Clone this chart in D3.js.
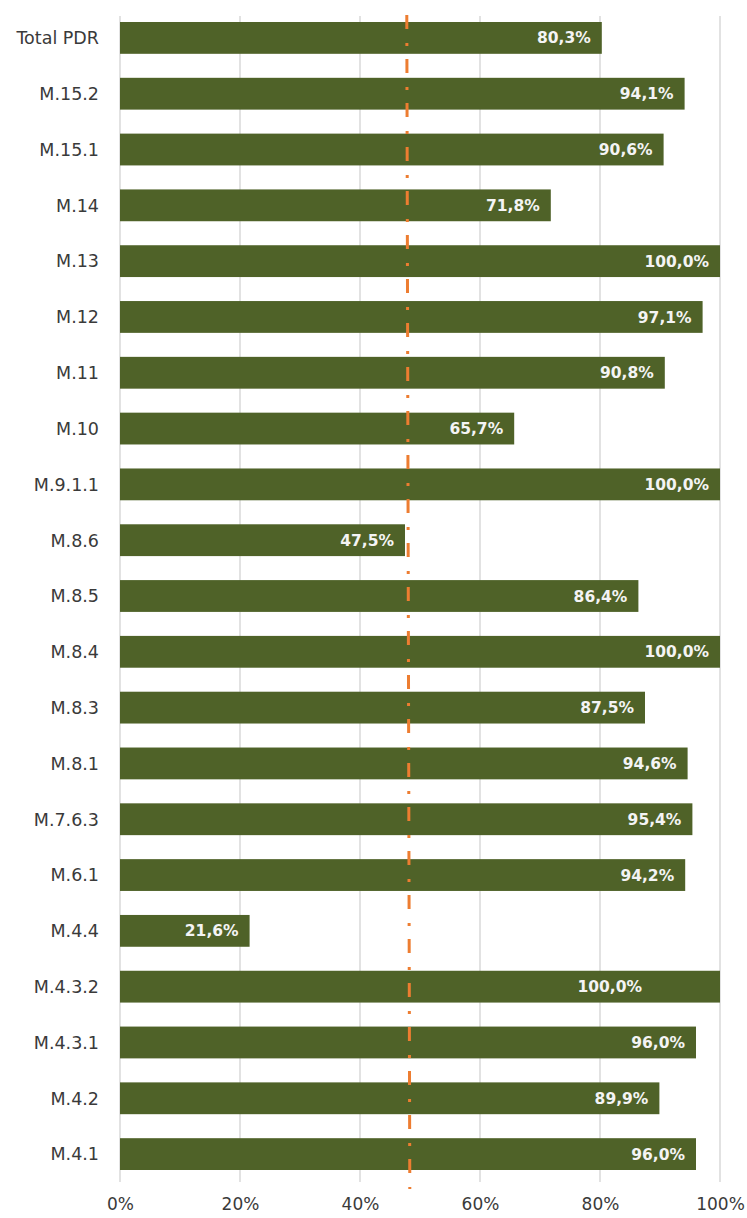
<!DOCTYPE html>
<html>
<head>
<meta charset="utf-8">
<script src="https://cdn.jsdelivr.net/npm/d3@7"></script>
<style>
  body { margin: 0; background: #fff; }
  text { font-family: "DejaVu Sans", sans-serif; }
</style>
</head>
<body>
<div id="chart"></div>
<script>
const categories = ["Total PDR", "M.15.2", "M.15.1", "M.14", "M.13", "M.12", "M.11", "M.10",
  "M.9.1.1", "M.8.6", "M.8.5", "M.8.4", "M.8.3", "M.8.1", "M.7.6.3", "M.6.1", "M.4.4",
  "M.4.3.2", "M.4.3.1", "M.4.2", "M.4.1"];
const values = [0.803, 0.941, 0.906, 0.718, 1.0, 0.971, 0.908, 0.657,
  1.0, 0.475, 0.864, 1.0, 0.875, 0.946, 0.954, 0.942, 0.216,
  1.0, 0.96, 0.899, 0.96];
const xTicks = [0, 0.2, 0.4, 0.6, 0.8, 1.0];
// reference line (top, bottom) - drawn slightly skewed in the original
const refLine = [0.478, 0.483];

const width = 747, height = 1218;
const margin = ({top: 10, right: 27, bottom: 36, left: 120});

const svg = d3.select("#chart").append("svg")
  .attr("width", width)
  .attr("height", height);

const x = d3.scaleLinear()
  .domain([0, 1])
  .range([margin.left, width - margin.right]);

const y = d3.scaleBand()
  .domain(categories)
  .range([margin.top, height - margin.bottom])
  .paddingInner(0.43)
  .paddingOuter(0.215);

const fmt = v => d3.format(".1f")(v * 100).replace(".", ",") + "%";

// gridlines
svg.append("g")
  .selectAll("line")
  .data(xTicks)
  .enter().append("line")
    .attr("x1", d => x(d)).attr("x2", d => x(d))
    .attr("y1", 16).attr("y2", y.range()[1])
    .attr("stroke", "#d9d9d9")
    .attr("stroke-width", 1.5);

// bars
svg.append("g")
  .selectAll("rect")
  .data(categories)
  .enter().append("rect")
    .attr("x", x(0))
    .attr("y", d => y(d))
    .attr("width", (d, i) => x(values[i]) - x(0))
    .attr("height", y.bandwidth())
    .attr("fill", "#4F6228");

// value labels
svg.append("g")
  .selectAll("text")
  .data(categories)
  .enter().append("text")
    .attr("x", (d, i) => x(values[i]) - (d === "M.4.3.2" ? 78 : 11))
    .attr("y", d => y(d) + y.bandwidth() / 2)
    .attr("dy", "0.36em")
    .attr("text-anchor", "end")
    .attr("fill", "#f4f4f4")
    .style("font-size", "15.5px")
    .style("font-weight", "bold")
    .text((d, i) => fmt(values[i]));

// reference line
svg.append("line")
  .attr("x1", x(refLine[0])).attr("y1", 15)
  .attr("x2", x(refLine[1])).attr("y2", y.range()[1] + 7)
  .attr("stroke", "#ED7D31")
  .attr("stroke-width", 3)
  .attr("stroke-dasharray", "14,14,3,13");

// category axis
const yAxis = d3.axisLeft(y).tickSize(0).tickPadding(21);
svg.append("g")
  .attr("transform", "translate(" + x(0) + ",0)")
  .call(yAxis)
  .call(g => g.select(".domain").remove())
  .selectAll("text")
    .attr("fill", "#3a3a3a")
    .style("font-family", "DejaVu Sans, sans-serif")
    .style("font-size", "17.5px")
    .attr("dy", "0.36em");

// value axis
const xAxis = d3.axisBottom(x)
  .tickValues(xTicks)
  .tickSize(0)
  .tickFormat(d3.format(".0%"));
svg.append("g")
  .attr("transform", "translate(0," + (height - 8) + ")")
  .call(xAxis)
  .call(g => g.select(".domain").remove())
  .selectAll("text")
    .attr("fill", "#3a3a3a")
    .attr("y", 0)
    .attr("dy", "0em")
    .style("font-family", "DejaVu Sans, sans-serif")
    .style("font-size", "17px");
</script>
</body>
</html>
